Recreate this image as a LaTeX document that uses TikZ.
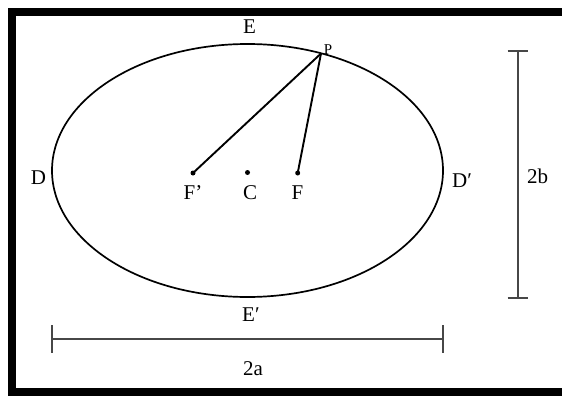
\documentclass[tikz,border=0pt]{standalone}
\usepackage{fontspec}
\setmainfont{Liberation Serif}
\begin{document}
\begin{tikzpicture}[x=1pt,y=-1pt,
  lbl/.style={inner sep=0pt,font=\fontsize{21}{21}\selectfont},
  smalllbl/.style={inner sep=0pt,font=\fontsize{15}{15}\selectfont},
  dimline/.style={draw=black!72,line width=2pt},
  focus/.style={circle,fill=black,inner sep=0pt,minimum size=5pt},
  seg/.style={draw=black,line width=1.9pt}]
\useasboundingbox (0,0) rectangle (562,396);
\fill[white] (0,0) rectangle (562,396);
% frame
\fill[black] (8,8) rectangle (562,16);
\fill[black] (8,8) rectangle (16,396);
\fill[black] (8,388) rectangle (562,396);
% ellipse
\coordinate (O) at (247.5,170.5);
\draw[line width=1.7pt] (O) ellipse [x radius=195.5, y radius=126.5];
% points
\node[focus] (Fp) at (193,173) {};
\node[focus] (C) at (247.5,172.5) {};
\node[focus] (F) at (297.7,173) {};
\coordinate (P) at (321,53.5);
\draw[seg] (P) -- (Fp.center);
\draw[seg] (P) -- (F.center);
% labels
\node[lbl] (lE) at (249.5,27) {E};
\node[smalllbl] (lP) at (328,50) {P};
\node[lbl] (lD) at (38.5,177.5) {D};
\node[lbl,anchor=west] (lDp) at (452,180.5) {D′};
\node[lbl] (lFp) at (193,193) {F’};
\node[lbl] (lC) at (250,193) {C};
\node[lbl] (lF) at (297.5,193) {F};
\node[lbl,anchor=west] (lEp) at (242,315) {E′};
\node[lbl] (l2a) at (253,369) {2a};
\node[lbl,anchor=west] (l2b) at (527,176.5) {2b};
% dimension 2a
\coordinate (aL) at (52,339);
\coordinate (aR) at (443,339);
\draw[dimline] (aL) -- (aR);
\draw[dimline] (52,325) -- (52,353);
\draw[dimline] (443,325) -- (443,353);
% dimension 2b
\coordinate (bT) at (517.7,51);
\coordinate (bB) at (517.7,297.7);
\draw[dimline] (bT) -- (bB);
\draw[dimline] (507.7,51) -- (527.7,51);
\draw[dimline] (507.7,297.7) -- (527.7,297.7);
\end{tikzpicture}
\end{document}
